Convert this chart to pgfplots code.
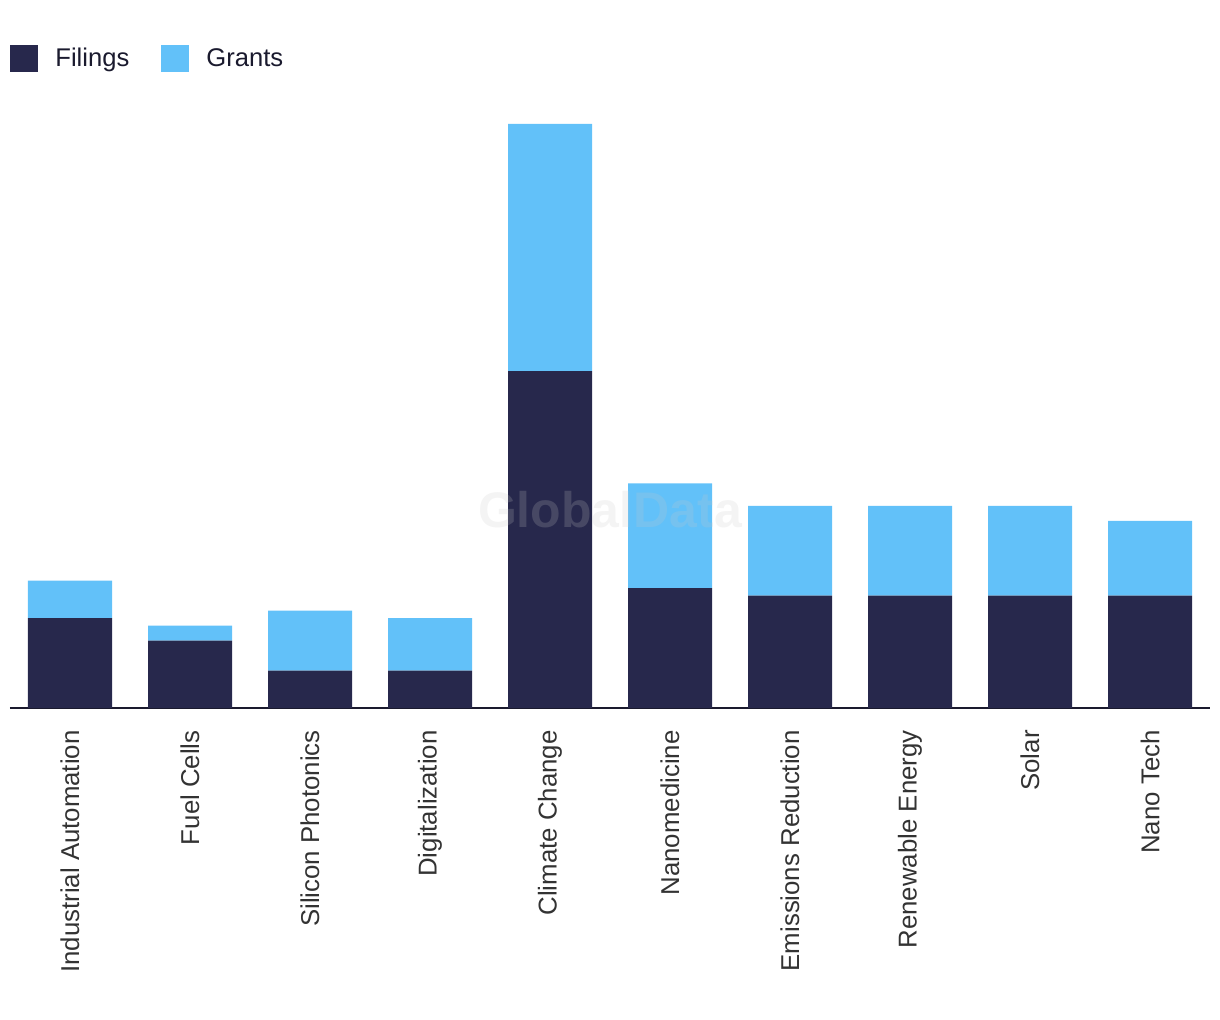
\documentclass[border=0pt]{standalone}
\usepackage{pgfplots}
\pgfplotsset{compat=1.18}
\usepackage{fontspec}
\setmainfont{Liberation Sans}
\definecolor{filings}{HTML}{27284C}
\definecolor{grants}{HTML}{62C1F9}
\definecolor{axisc}{HTML}{1A1A2E}
\definecolor{labc}{HTML}{333333}
\definecolor{wm}{HTML}{C8C8C8}
\begin{document}
\begin{tikzpicture}
\useasboundingbox (-5pt,-156pt) rectangle (605pt,354pt);
\begin{axis}[
  at={(0,0)}, anchor=south west,
  scale only axis,
  width=600pt, height=304pt,
  ybar stacked,
  bar width=0.7,
  xmin=-0.5, xmax=9.5,
  ymin=0, ymax=81.2,
  axis y line=none,
  axis x line*=bottom,
  x axis line style={draw=axisc, line width=1pt, -},
  xtick=data,
  xticklabels={Industrial Automation,Fuel Cells,Silicon Photonics,Digitalization,Climate Change,Nanomedicine,Emissions Reduction,Renewable Energy,Solar,Nano Tech},
  xticklabel style={rotate=90, anchor=east, font=\fontsize{12.9pt}{14pt}\selectfont, text=labc, inner sep=0pt, xshift=-11pt},
  major tick length=0pt,
  legend style={at={(0,1)}, anchor=south west, yshift=13pt, draw=none, fill=none, inner sep=0pt,
    font=\fontsize{12.8pt}{15pt}\selectfont, text=axisc,
    /tikz/every even column/.append style={column sep=14pt}},
  legend columns=2,
  legend image code/.code={\fill[#1, draw=none] (0pt,-6.75pt) rectangle (14pt,6.75pt); \path (20.5pt,0pt);},
  legend cell align=left,
]
\addplot[fill=filings, draw=none] coordinates {(0,12) (1,9) (2,5) (3,5) (4,45) (5,16) (6,15) (7,15) (8,15) (9,15)};
\addplot[fill=grants, draw=none] coordinates {(0,5) (1,2) (2,8) (3,7) (4,33) (5,14) (6,12) (7,12) (8,12) (9,10)};
\legend{Filings,Grants}
\end{axis}
\node[text=wm, text opacity=0.2, font=\bfseries\fontsize{25pt}{28pt}\selectfont] at (300pt,99pt) {GlobalData};
\end{tikzpicture}
\end{document}
